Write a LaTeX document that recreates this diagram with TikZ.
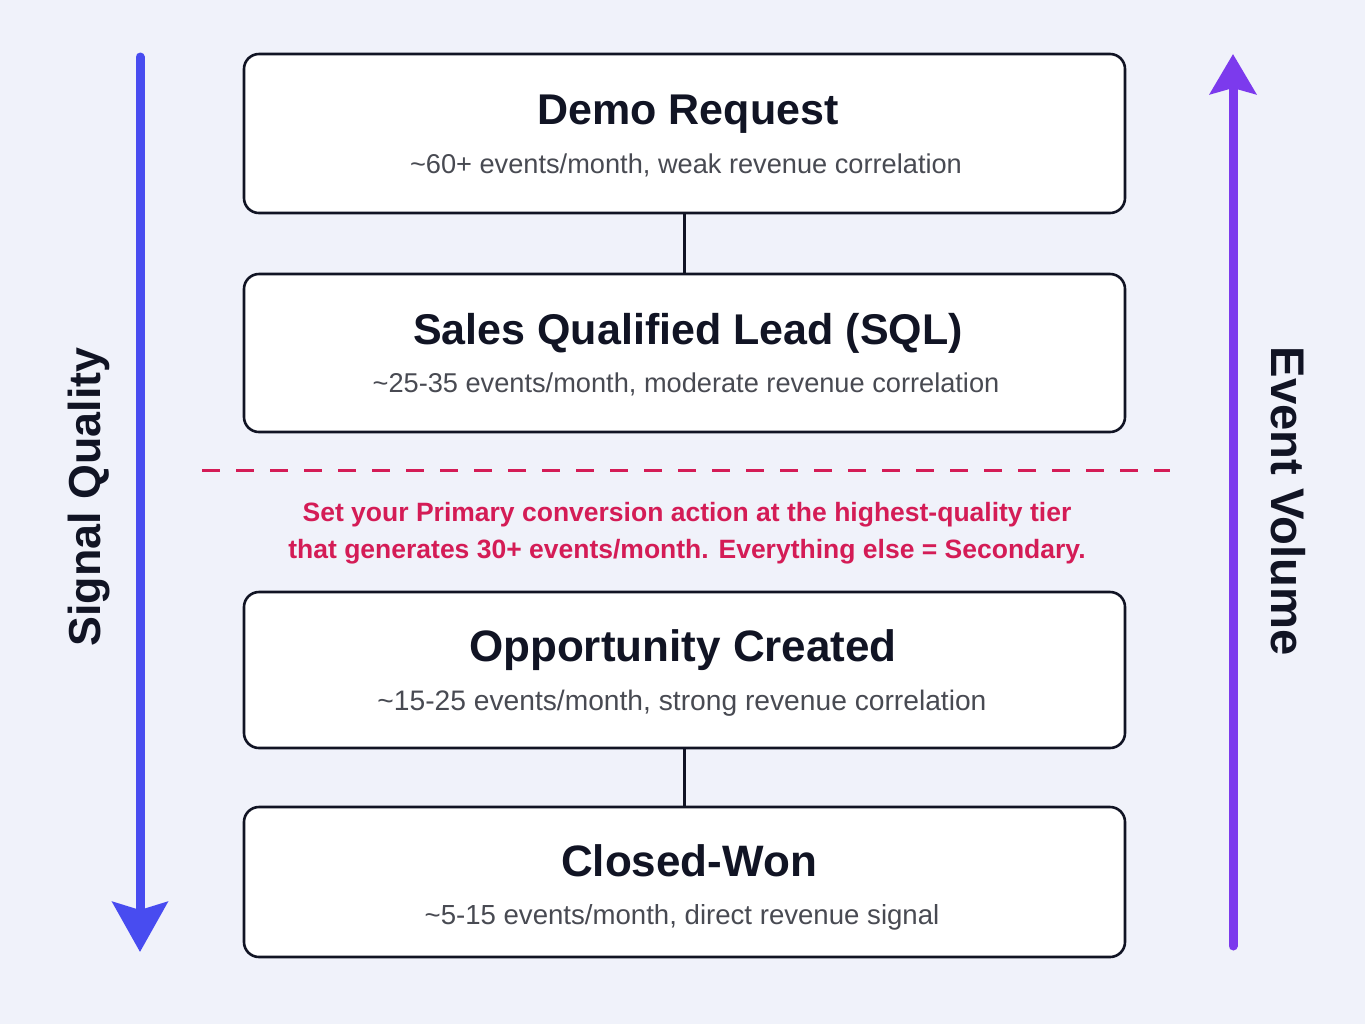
\documentclass[tikz,border=0pt]{standalone}
\usepackage{fontspec}
\setmainfont{Liberation Sans}
\usetikzlibrary{arrows.meta}
\definecolor{bg}{RGB}{240,242,250}
\definecolor{ink}{RGB}{17,20,36}
\definecolor{subc}{RGB}{72,74,82}
\definecolor{crim}{RGB}{212,28,86}
\definecolor{lblue}{RGB}{72,76,240}
\definecolor{lpurp}{RGB}{124,58,237}
\begin{document}
\begin{tikzpicture}[x=0.5pt,y=-0.5pt,
 stage/.style={draw=ink, line width=1.3pt, fill=white, rounded corners=7.5pt, minimum width=440.5pt, inner sep=0pt},
 ttl/.style={font=\fontsize{21.5}{24}\selectfont\bfseries, text=ink, inner sep=0pt, anchor=base},
 subt/.style={font=\fontsize{13.6}{16}\selectfont, text=subc, inner sep=0pt, anchor=base},
 note/.style={font=\fontsize{13.25}{15}\selectfont\bfseries, text=crim, inner sep=0pt, anchor=base},
 side/.style={font=\fontsize{22.4}{26}\selectfont\bfseries, text=ink, inner sep=0pt, anchor=base},
 link/.style={draw=ink, line width=1.5pt}]
\fill[bg] (0,0) rectangle (1365,1024);
\useasboundingbox (0,0) rectangle (1365,1024);
% side arrows
\coordinate (ls) at (140,57);
\coordinate (le) at (140,952);
\coordinate (rs) at (1233,946);
\coordinate (re) at (1233,54);
\draw[lblue, line width=4.5pt, line cap=round, -{Stealth[length=25pt, width=27.5pt, inset=4pt]}] (ls) -- (le);
\draw[lpurp, line width=4.5pt, line cap=round, -{Stealth[length=20pt, width=23pt, inset=3pt]}] (rs) -- (re);
% boxes
\node[stage, minimum height=79.5pt] (b1) at (684.5,133.5) {};
\node[stage, minimum height=79pt] (b2) at (684.5,353) {};
\node[stage, minimum height=78pt] (b3) at (684.5,670) {};
\node[stage, minimum height=75pt] (b4) at (684.5,882) {};
\draw[link] (b1.south) -- (b2.north);
\draw[link] (b3.south) -- (b4.north);
% texts
\node[ttl] (t1) at (688,124) {Demo Request};
\node[subt] (s1) at (686,173) {\textasciitilde 60+ events/month, weak revenue correlation};
\node[ttl] (t2) at (688,344) {Sales Qualified Lead (SQL)};
\node[subt] (s2) at (686,392) {\textasciitilde 25-35 events/month, moderate revenue correlation};
\node[ttl, font=\fontsize{22}{24}\selectfont\bfseries] (t3) at (683,661) {Opportunity Created};
\node[subt, font=\fontsize{14.1}{16}\selectfont] (s3) at (682,710) {\textasciitilde 15-25 events/month, strong revenue correlation};
\node[ttl, font=\fontsize{22}{24}\selectfont\bfseries] (t4) at (689,876) {Closed-Won};
\node[subt, font=\fontsize{13.8}{16}\selectfont] (s4) at (682,924) {\textasciitilde 5-15 events/month, direct revenue signal};
% threshold
\coordinate (da) at (202,470);
\coordinate (db) at (1170,470);
\draw[crim, line width=1.5pt, dash pattern=on 9pt off 8pt] (da) -- (db);
\node[note] (n1) at (687,521) {Set your Primary conversion action at the highest-quality tier};
\node[note] (n2) at (687,558) {that generates 30+ events/month. Everything else = Secondary.};
% side labels
\node[side, rotate=90] (sq) at (100,497) {Signal Quality};
\node[side, rotate=-90, font=\fontsize{23.6}{26}\selectfont\bfseries] (ev) at (1271,501) {Event Volume};
\end{tikzpicture}
\end{document}
